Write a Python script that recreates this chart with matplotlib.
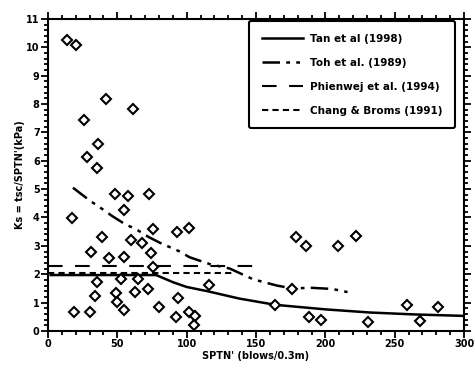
from matplotlib import pyplot as plt
from matplotlib.ticker import MultipleLocator

plt.rcParams["font.family"] = "DejaVu Sans"
plt.rcParams["font.weight"] = "bold"

# measured points
spt_n = [14, 20, 42, 61, 26, 36, 28, 35, 48, 58, 73, 55, 17, 76, 93, 102,
         39, 60, 68, 74, 31, 44, 55, 76, 35, 53, 65, 72, 63, 49, 34, 50,
         55, 19, 30, 80, 92, 94, 102, 106, 105, 116, 164, 176, 179, 186,
         209, 222, 188, 197, 231, 259, 268, 281]
ks = [10.26, 10.08, 8.18, 7.83, 7.44, 6.59, 6.13, 5.75, 4.83, 4.76, 4.83, 4.27,
      3.98, 3.6, 3.48, 3.62, 3.31, 3.21, 3.1, 2.76, 2.79, 2.57, 2.6, 2.27,
      1.72, 1.83, 1.83, 1.47, 1.37, 1.34, 1.23, 1.02, 0.74, 0.65, 0.67, 0.83,
      0.48, 1.16, 0.67, 0.53, 0.2, 1.61, 0.9, 1.47, 3.32, 2.98, 2.98, 3.33,
      0.5, 0.38, 0.33, 0.92, 0.35, 0.85]

# Tan et al (1998)
tan_x = [2, 78, 90, 100, 115, 138, 164, 200, 232, 265, 300]
tan_y = [1.97, 1.97, 1.72, 1.55, 1.4, 1.14, 0.92, 0.76, 0.65, 0.58, 0.53]
# Toh et al. (1989)
toh_x = [18, 30, 40, 46, 56, 63, 73, 81, 95, 102, 117, 131, 148, 165, 176, 190, 205, 216]
toh_y = [5.05, 4.6, 4.27, 4.06, 3.75, 3.6, 3.3, 3.1, 2.8, 2.6, 2.35, 2.2, 1.82, 1.6, 1.5, 1.52, 1.48, 1.37]
# Phienwej et al. (1994)
phi_x = [0, 151]
phi_y = [2.3, 2.3]
# Chang & Broms (1991)
chang_x = [0, 135]
chang_y = [2.04, 2.04]

fig = plt.figure(figsize=(4.75, 3.71), dpi=100)
ax = fig.add_axes([0.101, 0.108, 0.876, 0.841])

ax.plot(spt_n, ks, linestyle="none", marker="D", markersize=5, markerfacecolor="white",
        markeredgecolor="black", markeredgewidth=1.5, zorder=3)
ax.plot(tan_x, tan_y, color="black", lw=1.8, label="Tan et al (1998)")
ax.plot(toh_x, toh_y, color="black", lw=1.8, dashes=(7, 2.5, 1.5, 2.5, 1.5, 2.5),
        label="Toh et al. (1989)")
ax.plot(phi_x, phi_y, color="black", lw=1.5, dashes=(7, 6), label="Phienwej et al. (1994)")
ax.plot(chang_x, chang_y, color="black", lw=1.5, dashes=(3, 2), label="Chang & Broms (1991)")

ax.set_xlim(0, 300)
ax.set_ylim(0, 11)
ax.xaxis.set_major_locator(MultipleLocator(50))
ax.xaxis.set_minor_locator(MultipleLocator(10))
ax.yaxis.set_major_locator(MultipleLocator(1))
ax.yaxis.set_minor_locator(MultipleLocator(0.2))
ax.tick_params(which="both", direction="out", top=True, right=True, width=1.3, labelsize=7)
ax.tick_params(which="major", length=5)
ax.tick_params(which="minor", length=3)
ax.tick_params(labeltop=False, labelright=False, pad=1)
for s in ax.spines.values():
  s.set_linewidth(1.5)

ax.set_xlabel("SPTN' (blows/0.3m)", fontsize=7, fontweight="bold", labelpad=1)
ax.set_ylabel("Ks = tsc/SPTN'(kPa)", fontsize=7, fontweight="bold", labelpad=1)

leg = ax.legend(loc="upper right", bbox_to_anchor=(0.99, 1.01), fontsize=7.5, handlelength=4,
                handletextpad=0.6, fancybox=True, framealpha=1, edgecolor="black",
                labelspacing=1.35, borderpad=1.2)
leg.get_frame().set_linewidth(1.5)
for t in leg.get_texts():
  t.set_fontweight("bold")

plt.savefig("out.png", dpi=100)
